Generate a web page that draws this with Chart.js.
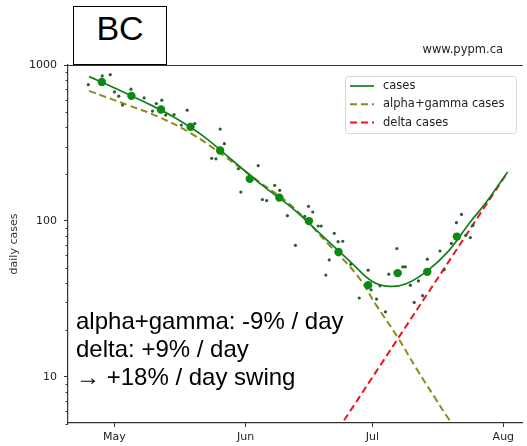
<!DOCTYPE html>
<html>
<head>
<meta charset="utf-8">
<script src="https://cdn.jsdelivr.net/npm/chart.js@4.4.1/dist/chart.umd.min.js"></script>
<style>
  html, body { margin: 0; padding: 0; background: #fff; }
  #wrap { position: relative; width: 527px; height: 446px; overflow: hidden; }
  #chart { position: absolute; left: 0; top: 0; }
  .region {
    position: absolute; left: 73px; top: 6px; width: 92px; height: 57px;
    border: 1.5px solid #000; background: #fff; text-align: center;
    font: 34px "Liberation Sans", Arial, sans-serif; line-height: 43px; color: #000;
  }
  .site {
    position: absolute; right: 24px; top: 42px;
    font: 11.5px "DejaVu Sans", sans-serif; line-height: 14px; color: #222;
  }
  .note {
    position: absolute; left: 76px; top: 307px;
    font: 24px "Liberation Sans", Arial, sans-serif; line-height: 28px; color: #000;
    white-space: nowrap;
  }
</style>
</head>
<body>
<div id="wrap">
  <canvas id="chart" width="527" height="446"></canvas>
  <div class="region">BC</div>
  <div class="site">www.pypm.ca</div>
  <div class="note">alpha+gamma: -9% / day<br>delta: +9% / day<br>→ +18% / day swing</div>
</div>
<script>
// days are counted from May 1
const tickDays = [0, 31, 61, 92];
const tickLabels = ["May", "Jun", "Jul", "Aug"];
const yMajor = [10, 100, 1000];
const yMinor = [5, 6, 7, 8, 9, 20, 30, 40, 50, 60, 70, 80, 90, 200, 300, 400, 500, 600, 700, 800, 900];

// daily reported cases (small dots)
const dailyDays = [-6.2, -2.9, -1, 0, 1, 1.9, 3.9, 7, 9, 9.9, 11.2, 12.1, 14.1, 15.8, 17.2, 19,
  23, 24, 25, 26, 29.3, 29.9, 34, 35, 36, 37.9, 39.1, 40.9, 42.8, 45, 45.9, 46.9, 48.2, 48.9,
  50, 50.8, 52, 52.9, 54, 55.9, 57.9, 60, 60.7, 62, 62.8, 64.1, 64.9, 66.8, 68.2, 68.8, 70,
  70.9, 71.9, 72.9, 74, 77, 78, 79.7, 80.9, 82.1, 83.1, 84.2, 84.8];
const dailyCases = [748, 851, 867, 672, 631, 553, 700, 615, 506, 566, 595, 477, 481, 412, 513, 421,
  252, 250, 388, 313, 216, 153, 226, 137, 135, 169, 157, 108, 69.7, 107, 124, 114, 92.7, 92.7,
  44.9, 56.2, 83.2, 73.6, 74, 52.7, 32, 48.3, 36.1, 31.5, 38.3, 26.1, 45.5, 66.4, 50.7, 50.7, 38.7,
  30, 41.2, 33.1, 56.8, 64.1, 48.5, 71.8, 97.4, 110, 80.8, 78.1, 93.6];

// weekly averages (large dots)
const weekDays = [-3, 4, 11, 18, 25, 32, 39, 46, 53, 60, 67, 74, 81];
const weekCases = [779, 634, 518, 401, 283, 186, 141, 99.7, 63.2, 38.7, 46.2, 47.1, 79.3];

// model curves
const modelDays = [-6, 0, 7, 14, 21, 28, 35, 42, 49, 56, 61, 65, 69, 74, 79, 84, 88, 93];
const modelCases = [842, 713, 581, 464, 350, 243, 169, 121, 81, 54, 40.8, 38, 39.5, 47.8, 64, 97, 132, 206];
const alphaDays = [-6, 3, 10, 18, 26, 34, 42, 51, 57.5, 62, 67, 71.5, 76, 79, 82];
const alphaCases = [682, 555, 470, 366, 260, 180, 124, 69, 44.4, 28.6, 17.9, 11.2, 7.2, 5.4, 4.3];
const deltaDays = [50, 54, 61, 66, 72, 76, 81, 86, 93];
const deltaCases = [3.5, 5.1, 9.9, 15.9, 28.1, 41, 65.8, 106, 205];

const pts = (xs, ys) => xs.map((x, i) => ({ x: x, y: ys[i] }));

const insideLegend = {
  id: "insideLegend",
  afterDraw(chart) {
    const ctx = chart.ctx;
    const items = chart.data.datasets.filter(d => d.legend);
    ctx.save();
    ctx.beginPath();
    ctx.roundRect(345.5, 76.5, 171, 57, 3);
    ctx.fillStyle = "rgba(255,255,255,0.8)";
    ctx.fill();
    ctx.strokeStyle = "#d6d6d6";
    ctx.lineWidth = 1;
    ctx.stroke();
    ctx.font = "11.5px 'DejaVu Sans'";
    ctx.textBaseline = "middle";
    items.forEach((d, i) => {
      const y = 86 + i * 18.3;
      ctx.beginPath();
      ctx.setLineDash(d.borderDash || []);
      ctx.strokeStyle = d.borderColor;
      ctx.lineWidth = d.borderWidth;
      ctx.moveTo(350, y);
      ctx.lineTo(374, y);
      ctx.stroke();
      ctx.setLineDash([]);
      ctx.fillStyle = "#222";
      ctx.fillText(d.label, 383, y);
    });
    ctx.restore();
  }
};

const axisExtras = {
  id: "axisExtras",
  afterDraw(chart) {
    const ctx = chart.ctx;
    const a = chart.chartArea;
    const ys = chart.scales.y;
    ctx.save();
    ctx.strokeStyle = "#333";
    ctx.lineWidth = 1;
    ctx.beginPath();
    ctx.moveTo(a.left, a.top + 0.5);
    ctx.lineTo(a.right, a.top + 0.5);
    yMinor.forEach(v => {
      const y = Math.round(ys.getPixelForValue(v)) + 0.5;
      ctx.moveTo(a.left - 2.5, y);
      ctx.lineTo(a.left, y);
    });
    ctx.stroke();
    ctx.restore();
  }
};

Chart.defaults.font.family = "'DejaVu Sans', sans-serif";

new Chart(document.getElementById("chart"), {
  type: "scatter",
  data: {
    datasets: [
      { label: "daily", data: pts(dailyDays, dailyCases), backgroundColor: "#2b5e36",
        borderWidth: 0, pointRadius: 1.6, order: 1 },
      { label: "weekly", data: pts(weekDays, weekCases), backgroundColor: "#0b8a12",
        borderWidth: 0, pointRadius: 4.2, order: 0 },
      { type: "line", label: "cases", legend: true, data: pts(modelDays, modelCases),
        borderColor: "#11801a", borderWidth: 1.7, pointRadius: 0, tension: 0.4, order: 2 },
      { type: "line", label: "alpha+gamma cases", legend: true, data: pts(alphaDays, alphaCases),
        borderColor: "#8a8a1e", borderWidth: 2, borderDash: [7, 4], pointRadius: 0,
        tension: 0.4, order: 3 },
      { type: "line", label: "delta cases", legend: true, data: pts(deltaDays, deltaCases),
        borderColor: "#f01020", borderWidth: 2, borderDash: [7, 4], pointRadius: 0,
        order: 4 }
    ]
  },
  options: {
    responsive: false,
    animation: false,
    layout: { padding: { top: 65, right: 0, bottom: 0, left: 0 } },
    plugins: { legend: { display: false }, tooltip: { enabled: false } },
    scales: {
      x: {
        type: "linear",
        min: -11,
        max: 96.6,
        afterBuildTicks: s => { s.ticks = tickDays.map(v => ({ value: v })); },
        afterFit: s => { s.height = 23; },
        ticks: {
          callback: v => tickLabels[tickDays.indexOf(v)],
          color: "#222", font: { size: 11 }, padding: 4, maxRotation: 0, autoSkip: false
        },
        grid: { drawOnChartArea: false, tickLength: 4, tickColor: "#333" },
        border: { color: "#333", width: 1.2 }
      },
      y: {
        type: "logarithmic",
        min: 5.05,
        max: 1000,
        afterBuildTicks: s => { s.ticks = yMajor.map(v => ({ value: v })); },
        afterFit: s => { s.width = 68; },
        ticks: { callback: v => String(v), color: "#222", font: { size: 11 }, padding: 7 },
        grid: { drawOnChartArea: false, tickLength: 4, tickColor: "#333" },
        border: { color: "#333", width: 1.2 },
        title: { display: true, text: "daily cases", color: "#333", font: { size: 11 },
          padding: { top: 8, bottom: 0 } }
      }
    }
  },
  plugins: [insideLegend, axisExtras]
});
</script>
</body>
</html>
